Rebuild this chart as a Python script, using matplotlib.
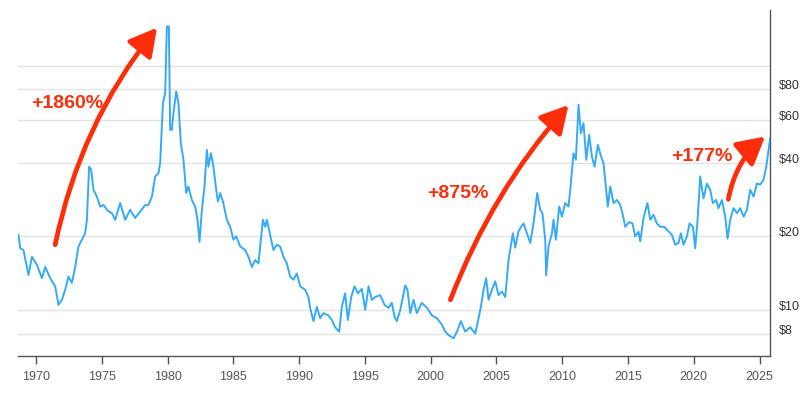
import matplotlib
matplotlib.use("Agg")
import matplotlib.pyplot as plt
from matplotlib.patches import ArrowStyle

# inflation-adjusted price (year, USD)
years = [
    1968.67, 1968.80, 1969.05, 1969.43, 1969.69, 1970.07, 1970.45, 1970.70, 1971.08, 1971.46,
    1971.71, 1971.97, 1972.22, 1972.47, 1972.73, 1972.98, 1973.23, 1973.49, 1973.74, 1973.87,
    1974.04, 1974.20, 1974.37, 1974.63, 1974.88, 1975.13, 1975.45, 1975.77, 1976.02, 1976.40,
    1976.78, 1977.16, 1977.54, 1977.92, 1978.30, 1978.55, 1978.81, 1979.06, 1979.31, 1979.44,
    1979.65, 1979.82, 1979.95, 1980.10, 1980.20, 1980.33, 1980.45, 1980.66, 1980.83, 1981.01,
    1981.21, 1981.42, 1981.59, 1981.85, 1982.10, 1982.28, 1982.43, 1982.61, 1982.81, 1982.99,
    1983.11, 1983.30, 1983.49, 1983.70, 1983.83, 1984.00, 1984.21, 1984.51, 1984.76, 1985.01,
    1985.22, 1985.52, 1985.90, 1986.15, 1986.41, 1986.66, 1986.91, 1987.25, 1987.42, 1987.55,
    1987.80, 1988.05, 1988.31, 1988.56, 1988.81, 1989.07, 1989.32, 1989.57, 1989.83, 1990.08,
    1990.46, 1990.71, 1990.84, 1991.09, 1991.35, 1991.60, 1991.85, 1992.23, 1992.49, 1992.74,
    1993.05, 1993.25, 1993.50, 1993.71, 1993.96, 1994.21, 1994.47, 1994.77, 1995.03, 1995.28,
    1995.53, 1995.79, 1996.17, 1996.49, 1996.80, 1997.05, 1997.25, 1997.43, 1997.69, 1998.07,
    1998.24, 1998.45, 1998.70, 1998.95, 1999.33, 1999.72, 2000.10, 2000.48, 2000.86, 2001.11,
    2001.36, 2001.74, 2002.00, 2002.30, 2002.63, 2003.01, 2003.39, 2003.56, 2003.82, 2004.02,
    2004.22, 2004.40, 2004.66, 2004.91, 2005.16, 2005.42, 2005.67, 2005.92, 2006.25, 2006.43,
    2006.68, 2006.88, 2007.06, 2007.32, 2007.57, 2007.82, 2008.10, 2008.33, 2008.50, 2008.71,
    2008.78, 2008.96, 2009.22, 2009.34, 2009.52, 2009.77, 2009.98, 2010.23, 2010.48, 2010.61,
    2010.86, 2011.04, 2011.24, 2011.42, 2011.62, 2011.83, 2012.05, 2012.26, 2012.46, 2012.71,
    2012.96, 2013.14, 2013.47, 2013.65, 2013.90, 2014.16, 2014.41, 2014.58, 2014.79, 2015.09,
    2015.34, 2015.55, 2015.80, 2015.93, 2016.18, 2016.48, 2016.69, 2016.94, 2017.20, 2017.45,
    2017.76, 2017.96, 2018.34, 2018.59, 2018.84, 2019.02, 2019.22, 2019.48, 2019.68, 2019.94,
    2020.11, 2020.29, 2020.49, 2020.74, 2021.00, 2021.25, 2021.45, 2021.71, 2021.88, 2022.14,
    2022.39, 2022.57, 2022.77, 2023.03, 2023.28, 2023.53, 2023.79, 2024.04, 2024.29, 2024.55,
    2024.80, 2025.05, 2025.30, 2025.51, 2025.81,
]
prices = [
    20.3, 17.9, 17.6, 13.9, 16.5, 15.3, 13.5, 15.0, 13.5, 12.5,
    10.5, 11.0, 12.1, 13.7, 12.9, 15.0, 18.2, 19.4, 20.6, 23.4,
    38.6, 37.4, 31.0, 29.1, 26.5, 26.9, 25.5, 24.9, 23.4, 27.4,
    23.4, 25.7, 23.8, 25.3, 26.9, 26.9, 29.1, 35.2, 36.3, 39.9,
    70.2, 77.2, 144.7, 144.7, 54.6, 54.6, 63.9, 78.4, 70.2, 48.2,
    41.2, 30.1, 32.0, 28.2, 26.5, 23.4, 19.0, 25.7, 32.0, 45.2,
    38.6, 43.8, 38.6, 31.0, 27.8, 30.1, 27.8, 23.4, 21.9, 19.4,
    20.0, 18.2, 17.6, 16.5, 15.0, 16.0, 15.5, 23.4, 21.9, 23.4,
    20.3, 17.6, 18.5, 18.2, 16.5, 15.5, 13.7, 13.3, 14.1, 12.5,
    12.1, 11.3, 10.2, 9.0, 10.3, 9.25, 9.7, 9.5, 9.1, 8.5,
    8.15, 10.3, 11.7, 9.1, 11.3, 12.5, 11.7, 12.2, 10.0, 12.5,
    11.0, 11.3, 11.5, 10.5, 10.2, 10.7, 9.4, 9.0, 10.0, 12.6,
    12.1, 9.7, 11.0, 9.7, 10.7, 10.2, 9.5, 9.25, 8.7, 8.15,
    7.9, 7.66, 8.15, 9.0, 8.15, 8.5, 8.0, 8.8, 10.3, 12.1,
    13.5, 11.0, 12.1, 13.1, 11.5, 11.9, 11.3, 16.0, 20.6, 18.0,
    21.0, 21.9, 22.6, 20.6, 18.8, 22.6, 30.1, 25.7, 24.9, 19.4,
    13.9, 18.2, 20.6, 23.4, 19.4, 26.5, 24.1, 27.4, 26.5, 31.0,
    43.8, 41.2, 69.1, 52.9, 58.2, 41.2, 52.1, 42.4, 38.6, 47.4,
    42.4, 39.9, 26.5, 32.0, 27.4, 28.2, 26.9, 24.9, 21.9, 22.9,
    22.6, 20.0, 20.9, 19.1, 23.8, 27.4, 23.4, 24.5, 22.6, 21.9,
    21.9, 21.3, 20.3, 18.5, 18.8, 20.6, 18.5, 20.0, 22.6, 21.9,
    17.9, 23.4, 35.2, 28.6, 32.9, 31.0, 27.4, 28.2, 26.1, 28.2,
    24.1, 19.6, 23.4, 26.1, 24.9, 26.1, 24.1, 25.7, 31.0, 29.1,
    32.9, 32.6, 34.1, 38.6, 50.5,
]

x_ticks = list(range(1970, 2030, 5))
y_ticks = [8, 10, 20, 40, 60, 80, 100]
y_tick_labels = ["$8", "$10", "$20", "$40", "$60", "$80", ""]

# rallies: (label, label position, arrow start, arrow tip, curvature)
rallies = [
    ("+1860%", (1972.39, 69.8), (1971.46, 18.5), (1979.2, 143.0), -0.12),
    ("+875%", (2002.09, 30.1), (2001.5, 11.0), (2010.48, 69.0), -0.09),
    ("+177%", (2020.62, 42.3), (2022.63, 28.4), (2025.42, 51.3), -0.18),
]

LINE_BLUE = "#35aaf6"
RED = "#ff2d0a"

plt.rcParams["font.family"] = ["Liberation Sans", "DejaVu Sans"]

fig = plt.figure(figsize=(8.02, 3.95), dpi=100)
ax = fig.add_axes([0.0228, 0.0987, 0.9377, 0.8759])

ax.plot(years, prices, color=LINE_BLUE, linewidth=1.4, solid_joinstyle="round", zorder=3)

ax.set_yscale("log")
ax.set_xlim(1968.655, 2025.82)
ax.set_ylim(6.48, 168.9)

ax.set_xticks(x_ticks)
ax.set_xticklabels([str(t) for t in x_ticks])
ax.set_yticks(y_ticks)
ax.set_yticklabels(y_tick_labels)
ax.yaxis.set_minor_locator(plt.NullLocator())
ax.yaxis.tick_right()
ax.tick_params(axis="y", length=0, pad=6.5, labelsize=9, labelcolor="#333333")
ax.tick_params(axis="x", length=5.8, width=1.0, color="#555555", pad=5,
               labelsize=9, labelcolor="#555555")
for label in ax.get_yticklabels():
    label.set_verticalalignment("baseline")

ax.grid(axis="y", color="#e3e3e3", linewidth=1.0, zorder=0)
ax.set_axisbelow(True)

for side in ("left", "top"):
    ax.spines[side].set_visible(False)
for side in ("bottom", "right"):
    ax.spines[side].set_color("#555555")
    ax.spines[side].set_linewidth(1.0)

head = ArrowStyle("-|>", head_length=1.0, head_width=0.55)
for text, text_pos, start, tip, rad in rallies:
    ax.annotate(
        "",
        xy=tip,
        xytext=start,
        arrowprops=dict(
            arrowstyle=head,
            mutation_scale=16.5,
            connectionstyle=f"arc3,rad={rad}",
            color=RED,
            linewidth=3.4,
            shrinkA=0,
            shrinkB=0,
        ),
        zorder=4,
    )
    ax.text(text_pos[0], text_pos[1], text, color=RED, fontsize=14, fontweight="bold",
            ha="center", va="center", zorder=5)

fig.savefig("out.png", dpi=100)
